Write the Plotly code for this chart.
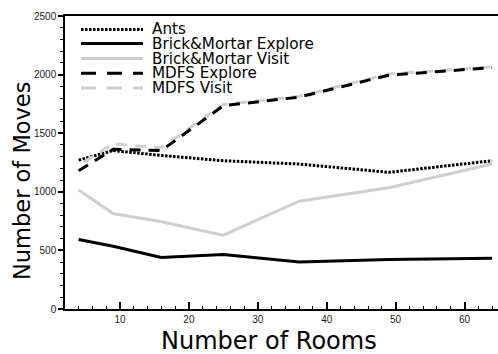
import plotly.graph_objects as go

rooms = [4, 9, 16, 25, 36, 49, 64]
ants = [1270, 1352, 1310, 1265, 1237, 1166, 1265]
bm_explore = [593, 536, 440, 465, 402, 422, 433]
bm_visit = [1015, 815, 744, 630, 920, 1034, 1237]
mdfs_explore = [1180, 1362, 1352, 1735, 1808, 1995, 2060]
mdfs_visit = [1225, 1410, 1375, 1745, 1815, 2005, 2065]

series_names = ["Ants", "Brick&Mortar Explore", "Brick&Mortar Visit", "MDFS Explore", "MDFS Visit"]
x_ticks = [10, 20, 30, 40, 50, 60]
y_ticks = [0, 500, 1000, 1500, 2000, 2500]

W, H = 498, 354
L, T, B = 65, 16, 45
PW, PH = W - L, H - T - B

def px(x):
    return (x - L) / PW

def py(y):
    return (H - B - y) / PH

GRAY = "#cfcfcf"
FONT = "Liberation Sans, Arial, Helvetica, sans-serif"
TFONT = "DejaVu Sans, sans-serif"

styles = [
    dict(color="black", width=3, dash="2.5px,1.5px"),
    dict(color="black", width=3, dash="solid"),
    dict(color=GRAY, width=3, dash="solid"),
    dict(color="black", width=3, dash="11px,8px"),
    dict(color=GRAY, width=3, dash="0px,6px,11px,2px"),
]
series = [ants, bm_explore, bm_visit, mdfs_explore, mdfs_visit]
order = [0, 1, 2, 4, 3]  # gray visit under black explore

fig = go.Figure()
for i in order:
    fig.add_trace(go.Scatter(x=rooms, y=series[i], mode="lines", name=series_names[i],
                             line=styles[i], showlegend=False, hoverinfo="skip"))

# manual legend (line samples + labels)
legend_rows = [29.4, 43.6, 58.5, 73.2, 88.0]
legend_dash = ["2.5px,1.5px", "solid", "solid", "15px,11px", "15px,11px"]
legend_col = ["black", "black", GRAY, "black", GRAY]
shapes = []
annotations = []
for i, name in enumerate(series_names):
    yy = py(legend_rows[i])
    shapes.append(dict(type="line", xref="paper", yref="paper", x0=px(81), x1=px(143),
                       y0=yy, y1=yy, line=dict(color=legend_col[i], width=3, dash=legend_dash[i])))
    annotations.append(dict(xref="paper", yref="paper", x=px(149.5), y=yy, text=name,
                            showarrow=False, xanchor="left", yanchor="middle",
                            font=dict(family=TFONT, size=15.2, color="black")))

annotations.append(dict(xref="paper", yref="paper", x=px(22), y=py(181), text="Number of Moves",
                        textangle=-90, showarrow=False, xanchor="center", yanchor="middle",
                        font=dict(family=TFONT, size=22.5, color="black")))
annotations.append(dict(xref="paper", yref="paper", x=px(269), y=py(341), text="Number of Rooms",
                        showarrow=False, xanchor="center", yanchor="middle",
                        font=dict(family=TFONT, size=24, color="black")))

fig.update_layout(
    width=W, height=H,
    margin=dict(l=L, r=0, t=T, b=B, pad=0),
    plot_bgcolor="white", paper_bgcolor="white",
    shapes=shapes, annotations=annotations,
    showlegend=False, hovermode=False,
    font=dict(family=FONT, color="#222"),
    xaxis=dict(range=[2.02, 64.86], tickmode="array", tickvals=x_ticks,
               ticks="inside", ticklen=7, tickwidth=1.5, tickcolor="black",
               minor=dict(tickmode="linear", tick0=0, dtick=2, ticks="inside", ticklen=3,
                          tickwidth=1, tickcolor="black"),
               showline=True, linecolor="black", linewidth=1.5, mirror=True,
               showgrid=False, zeroline=False,
               tickfont=dict(family=FONT, size=10, color="#222")),
    yaxis=dict(range=[0, 2500], tickmode="array", tickvals=y_ticks,
               ticks="outside", ticklen=5, tickwidth=1.5, tickcolor="black",
               minor=dict(tickmode="linear", tick0=0, dtick=100, ticks="outside", ticklen=3,
                          tickwidth=1, tickcolor="black"),
               showline=True, linecolor="black", linewidth=1.5,
               showgrid=False, zeroline=False,
               tickfont=dict(family=FONT, size=10, color="#222")),
)

fig.write_html("out.html", config={"displayModeBar": False},
               post_script="document.body.style.margin='0';document.body.style.overflow='hidden';")
